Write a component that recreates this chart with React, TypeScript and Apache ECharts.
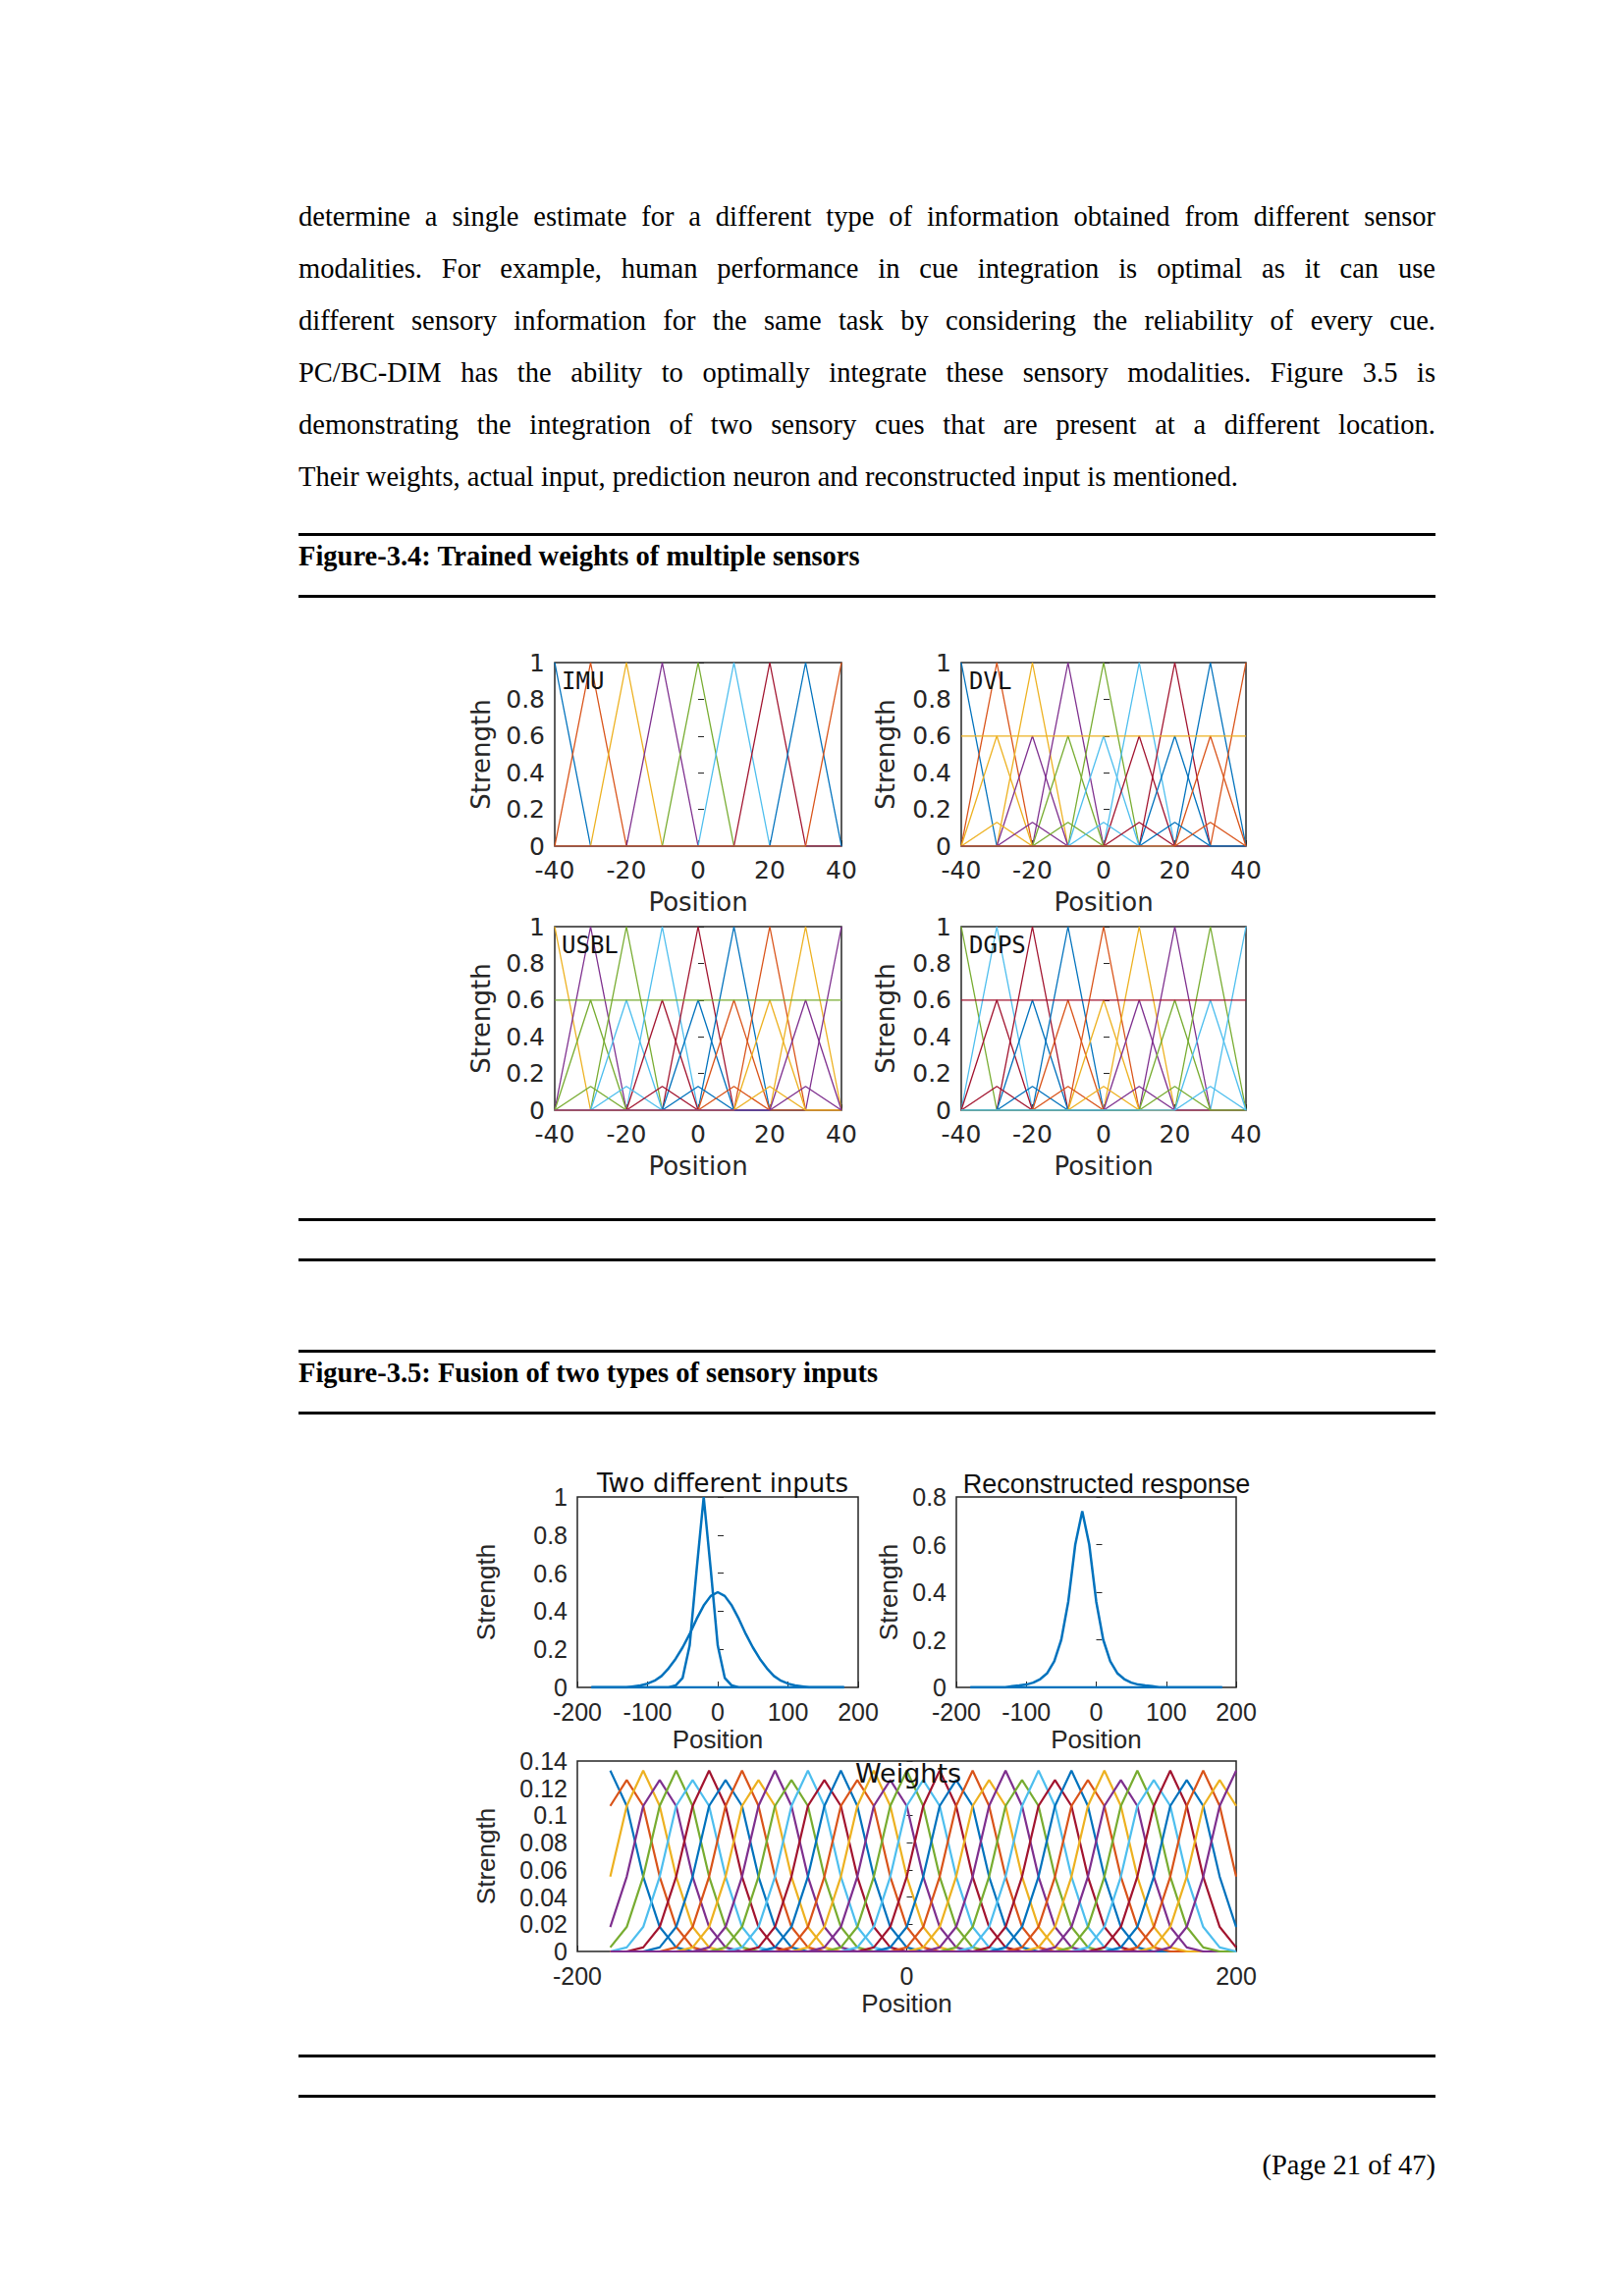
import React, { useEffect, useRef } from 'react';
import * as echarts from 'echarts';

// MATLAB default line colours
const palette = ['#0072BD', '#D95319', '#EDB120', '#7E2F8E', '#77AC30', '#4DBEEE', '#A2142F'];

// Figure 3.4 sample grid and triangle peaks
const sensorX = [-40, -30, -20, -10, 0, 10, 20, 30, 40];
const fullPeaks = [-40, -30, -20, -10, 0, 10, 20, 30, 40];
const midPeaks = [-30, -20, -10, 0, 10, 20, 30];
const lowPeaks = [-30, -20, -10, 0, 10, 20, 30];
const fullValue = 1;
const midValue = 0.6;
const lowValue = 0.13;
const flatValue = 0.6;

// Figure 3.5 top panels
const inputX = [-180, -170, -160, -150, -140, -130, -120, -110, -100, -90, -80, -70, -60, -50, -40, -30, -20, -10, 0,
  10, 20, 30, 40, 50, 60, 70, 80, 90, 100, 110, 120, 130, 140, 150, 160, 170, 180];
const narrowInput = [0, 0, 0, 0, 0, 0, 0, 0, 0, 0, 0, 0, 0.01, 0.05, 0.22, 0.62, 1.0, 0.62, 0.22,
  0.05, 0.01, 0, 0, 0, 0, 0, 0, 0, 0, 0, 0, 0, 0, 0, 0, 0, 0];
const wideInput = [0, 0, 0, 0, 0, 0, 0.005, 0.01, 0.02, 0.035, 0.06, 0.1, 0.15, 0.21, 0.28, 0.36, 0.43, 0.48, 0.5,
  0.48, 0.43, 0.36, 0.28, 0.21, 0.15, 0.1, 0.06, 0.035, 0.02, 0.01, 0.005, 0, 0, 0, 0, 0, 0];
const reconstructed = [0, 0, 0, 0, 0, 0, 0.005, 0.008, 0.012, 0.02, 0.035, 0.06, 0.11, 0.2, 0.36, 0.6, 0.74, 0.6, 0.36,
  0.2, 0.11, 0.06, 0.035, 0.02, 0.012, 0.008, 0.005, 0, 0, 0, 0, 0, 0, 0, 0, 0, 0];
const zeroLine = [0, 0, 0, 0, 0, 0, 0, 0, 0, 0, 0, 0, 0, 0, 0, 0, 0, 0, 0, 0, 0, 0, 0, 0, 0, 0, 0, 0, 0, 0, 0, 0, 0, 0, 0, 0, 0];

// Figure 3.5 weights
const weightX = [-180, -170, -160, -150, -140, -130, -120, -110, -100, -90, -80, -70, -60, -50, -40, -30, -20, -10, 0,
  10, 20, 30, 40, 50, 60, 70, 80, 90, 100, 110, 120, 130, 140, 150, 160, 170, 180, 190, 200];
const weightPeaks = [0.133, 0.126, 0.133, 0.126, 0.133, 0.126, 0.133, 0.126, 0.133, 0.126, 0.133, 0.126, 0.133,
  0.126, 0.133, 0.126, 0.133, 0.126, 0.133, 0.126, 0.133, 0.126, 0.133, 0.126, 0.133, 0.126, 0.133, 0.126, 0.133,
  0.126, 0.133, 0.126, 0.133, 0.126, 0.133, 0.126, 0.133, 0.126, 0.133];
const weightSides = [0.107, 0.055, 0.018, 0.003];

const paragraph = [
  'determine a single estimate for a different type of information obtained from different sensor',
  'modalities. For example, human performance in cue integration is optimal as it can use',
  'different sensory information for the same task by considering the reliability of every cue.',
  'PC/BC-DIM has the ability to optimally integrate these sensory modalities. Figure 3.5 is',
  'demonstrating the integration of two sensory cues that are present at a different location.',
  'Their weights, actual input, prediction neuron and reconstructed input is mentioned.',
];

const spike = (xs: number[], center: number, value: number) =>
  xs.map((x) => [x, x === center ? value : 0]);

const sensorSeries = (withMid: boolean) => {
  const list: [number, number][][] = fullPeaks.map((c) => spike(sensorX, c, fullValue) as [number, number][]);
  if (withMid) {
    midPeaks.forEach((c) => list.push(spike(sensorX, c, midValue) as [number, number][]));
    lowPeaks.forEach((c) => list.push(spike(sensorX, c, lowValue) as [number, number][]));
    list.push(sensorX.map((x) => [x, flatValue]));
  }
  return list;
};

const weightSeries = () =>
  weightX.map((c, i) =>
    weightX.map((x, j) => {
      const d = Math.abs(j - i);
      const v = d === 0 ? weightPeaks[i] : d <= weightSides.length ? weightSides[d - 1] : 0;
      return [x, v];
    })
  );

const ink = '#262626';

export default function App() {
  const ref = useRef<HTMLDivElement>(null);

  useEffect(() => {
    if (!ref.current) return;
    const chart = echarts.init(ref.current, undefined, { renderer: 'svg' });

    const grids: any[] = [];
    const xAxes: any[] = [];
    const yAxes: any[] = [];
    const series: any[] = [];
    const titles: any[] = [];

    const addPanel = (
      box: { left: number; top: number; width: number; height: number },
      x: { min: number; max: number; interval: number; gap: number },
      y: { min: number; max: number; interval: number; gap: number; digits: number },
      font: string,
      lines: number[][][],
      width: number,
      colorStart = 0,
      single?: string
    ) => {
      const idx = grids.length;
      grids.push({ ...box, show: true, borderColor: ink, borderWidth: 1.5, backgroundColor: 'transparent' });
      const label = { color: ink, fontSize: 25, fontFamily: font };
      xAxes.push({
        gridIndex: idx, type: 'value', min: x.min, max: x.max, interval: x.interval,
        name: 'Position', nameLocation: 'middle', nameGap: x.gap,
        nameTextStyle: { color: ink, fontSize: 26, fontFamily: font },
        axisLine: { show: false }, splitLine: { show: false },
        axisTick: { inside: true, length: 6, lineStyle: { color: ink } },
        axisLabel: { ...label, margin: 12 },
      });
      yAxes.push({
        gridIndex: idx, type: 'value', min: y.min, max: y.max, interval: y.interval,
        name: 'Strength', nameLocation: 'middle', nameGap: y.gap,
        nameTextStyle: { color: ink, fontSize: 26, fontFamily: font },
        axisLine: { show: false }, splitLine: { show: false },
        axisTick: { inside: true, length: 6, lineStyle: { color: ink } },
        axisLabel: { ...label, margin: 10, formatter: (v: number) => String(+v.toFixed(y.digits)) },
      });
      lines.forEach((data, k) => {
        series.push({
          type: 'line', xAxisIndex: idx, yAxisIndex: idx, data, showSymbol: false, symbol: 'none',
          lineStyle: { width, color: single || palette[(k + colorStart) % palette.length] },
          silent: true,
        });
      });
    };

    const f34 = 'DejaVu Sans';
    const f35 = 'Liberation Sans';
    const x34 = { min: -40, max: 40, interval: 20, gap: 44 };
    const y34 = { min: 0, max: 1, interval: 0.2, digits: 1 };
    addPanel({ left: 565, top: 675, width: 292, height: 187 }, x34, { ...y34, gap: 62 }, f34, sensorSeries(false), 1.3);
    addPanel({ left: 979, top: 675, width: 290, height: 187 }, x34, { ...y34, gap: 64 }, f34, sensorSeries(true), 1.3);
    addPanel({ left: 565, top: 944, width: 292, height: 187 }, x34, { ...y34, gap: 62 }, f34, sensorSeries(true), 1.3, 2);
    addPanel({ left: 979, top: 944, width: 290, height: 187 }, x34, { ...y34, gap: 64 }, f34, sensorSeries(true), 1.3, 4);

    const toPts = (ys: number[]) => inputX.map((x, i) => [x, ys[i]]);
    addPanel({ left: 588, top: 1525, width: 286, height: 194 }, { min: -200, max: 200, interval: 100, gap: 40 },
      { min: 0, max: 1, interval: 0.2, gap: 80, digits: 1 }, f35,
      [toPts(narrowInput), toPts(wideInput), toPts(zeroLine)], 2.5, 0, '#0072BD');
    addPanel({ left: 974, top: 1525, width: 285, height: 194 }, { min: -200, max: 200, interval: 100, gap: 40 },
      { min: 0, max: 0.8, interval: 0.2, gap: 56, digits: 1 }, f35,
      [toPts(reconstructed), toPts(zeroLine)], 2.5, 0, '#0072BD');
    addPanel({ left: 588, top: 1794, width: 671, height: 194 }, { min: -200, max: 200, interval: 200, gap: 40 },
      { min: 0, max: 0.14, interval: 0.02, gap: 80, digits: 2 }, f35, weightSeries(), 2.2);

    const titleText = (text: string, left: number, top: number, font: string, size: number, align = 'left') => {
      titles.push({
        text, left, top, textAlign: align,
        textStyle: { color: '#111', fontSize: size, fontFamily: font, fontWeight: 'normal' },
      });
    };
    titleText('IMU', 567, 677, 'DejaVu Sans Mono', 24);
    titleText('DVL', 982, 677, 'DejaVu Sans Mono', 24);
    titleText('USBL', 567, 946, 'DejaVu Sans Mono', 24);
    titleText('DGPS', 982, 946, 'DejaVu Sans Mono', 24);
    titleText('Two different inputs', 731, 1493, 'DejaVu Sans', 26, 'center');
    titleText('Reconstructed response', 1122, 1493, 'Liberation Sans', 27, 'center');
    titleText('Weights', 920, 1788, 'DejaVu Sans', 27, 'center');

    chart.setOption({
      animation: false,
      title: titles,
      grid: grids,
      xAxis: xAxes,
      yAxis: yAxes,
      series,
    });
    return () => chart.dispose();
  }, []);

  const rule = (top: number) => (
    <div style={{ position: 'absolute', left: 304, width: 1158, top, height: 3, background: '#000' }} />
  );
  const serif = { fontFamily: '"Liberation Serif", "Times New Roman", serif', color: '#000' };

  return (
    <div style={{ position: 'absolute', left: 0, top: 0, width: 1654, height: 2339, background: '#fff', overflow: 'hidden' }}>
      <div ref={ref} style={{ position: 'absolute', left: 0, top: 0, width: 1654, height: 2339 }} />
      {paragraph.map((line, i) => (
        <div key={i} style={{
          ...serif, position: 'absolute', left: 304, width: 1158, top: 203 + i * 53, fontSize: 28.5,
          lineHeight: '36px', whiteSpace: 'nowrap', textAlign: i < paragraph.length - 1 ? 'justify' : 'left',
          textAlignLast: i < paragraph.length - 1 ? 'justify' : 'left',
        }}>{line}</div>
      ))}
      {rule(543)}
      <div style={{ ...serif, position: 'absolute', left: 304, top: 551, fontSize: 28.5, fontWeight: 'bold' }}>
        Figure-3.4: Trained weights of multiple sensors
      </div>
      {rule(606)}
      {rule(1241)}
      {rule(1282)}
      {rule(1375)}
      <div style={{ ...serif, position: 'absolute', left: 304, top: 1383, fontSize: 28.5, fontWeight: 'bold' }}>
        Figure-3.5: Fusion of two types of sensory inputs
      </div>
      {rule(1438)}
      {rule(2093)}
      {rule(2134)}
      <div style={{ ...serif, position: 'absolute', left: 304, width: 1158, top: 2190, fontSize: 28.5, textAlign: 'right' }}>
        (Page 21 of 47)
      </div>
    </div>
  );
}
